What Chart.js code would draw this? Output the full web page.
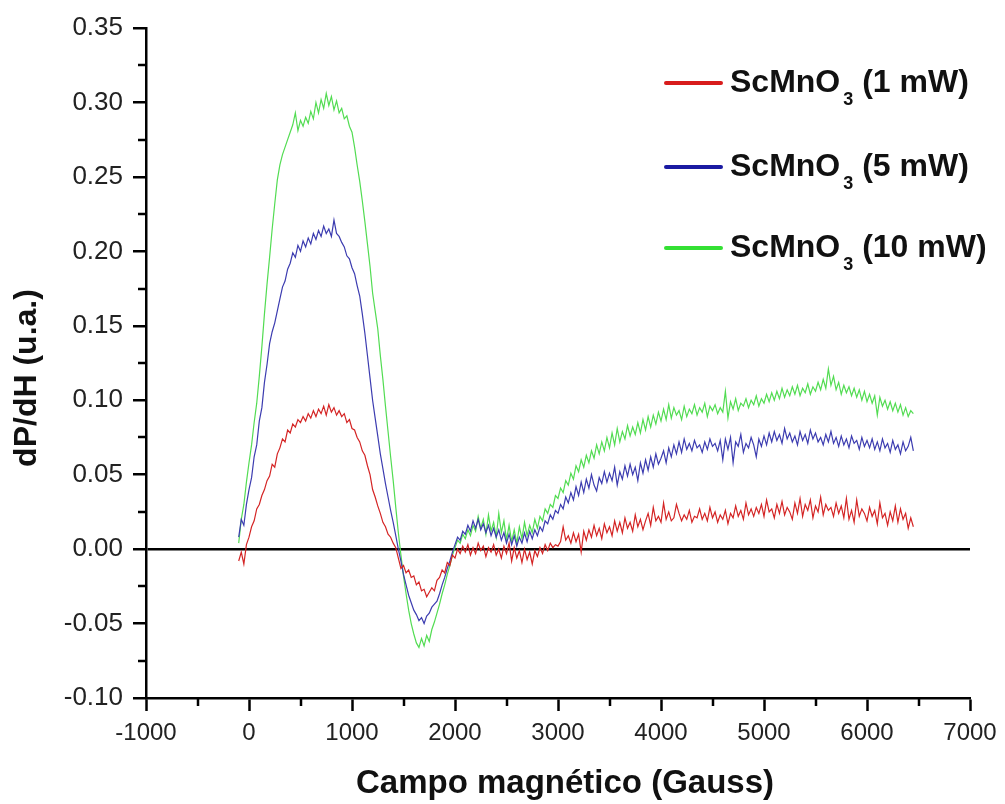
<!DOCTYPE html>
<html>
<head>
<meta charset="utf-8">
<title>ScMnO3 – dP/dH</title>
<script src="https://cdn.jsdelivr.net/npm/chart.js@4/dist/chart.umd.min.js"></script>
<style>
  html, body { margin: 0; padding: 0; background: #fff; }
  #wrap { width: 1005px; height: 804px; }
</style>
</head>
<body>
<div id="wrap"><canvas id="c" width="1005" height="804"></canvas></div>
<script>
// Magnetic field (Gauss)
const fieldGauss = [
  -100, -75, -50, -25,
  0, 25, 50, 75,
  100, 125, 150, 175,
  200, 225, 250, 275,
  300, 325, 350, 375,
  400, 425, 450, 475,
  500, 525, 550, 575,
  600, 625, 650, 675,
  700, 725, 750, 775,
  800, 825, 850, 875,
  900, 925, 950, 975,
  1000, 1025, 1050, 1075,
  1100, 1125, 1150, 1175,
  1200, 1225, 1250, 1275,
  1300, 1325, 1350, 1375,
  1400, 1425, 1450, 1475,
  1500, 1525, 1550, 1575,
  1600, 1625, 1650, 1675,
  1700, 1725, 1750, 1775,
  1800, 1825, 1850, 1875,
  1900, 1925, 1950, 1975,
  2000, 2025, 2050, 2075,
  2100, 2125, 2150, 2175,
  2200, 2225, 2250, 2275,
  2300, 2325, 2350, 2375,
  2400, 2425, 2450, 2475,
  2500, 2525, 2550, 2575,
  2600, 2625, 2650, 2675,
  2700, 2725, 2750, 2775,
  2800, 2825, 2850, 2875,
  2900, 2925, 2950, 2975,
  3000, 3025, 3050, 3075,
  3100, 3125, 3150, 3175,
  3200, 3225, 3250, 3275,
  3300, 3325, 3350, 3375,
  3400, 3425, 3450, 3475,
  3500, 3525, 3550, 3575,
  3600, 3625, 3650, 3675,
  3700, 3725, 3750, 3775,
  3800, 3825, 3850, 3875,
  3900, 3925, 3950, 3975,
  4000, 4025, 4050, 4075,
  4100, 4125, 4150, 4175,
  4200, 4225, 4250, 4275,
  4300, 4325, 4350, 4375,
  4400, 4425, 4450, 4475,
  4500, 4525, 4550, 4575,
  4600, 4625, 4650, 4675,
  4700, 4725, 4750, 4775,
  4800, 4825, 4850, 4875,
  4900, 4925, 4950, 4975,
  5000, 5025, 5050, 5075,
  5100, 5125, 5150, 5175,
  5200, 5225, 5250, 5275,
  5300, 5325, 5350, 5375,
  5400, 5425, 5450, 5475,
  5500, 5525, 5550, 5575,
  5600, 5625, 5650, 5675,
  5700, 5725, 5750, 5775,
  5800, 5825, 5850, 5875,
  5900, 5925, 5950, 5975,
  6000, 6025, 6050, 6075,
  6100, 6125, 6150, 6175,
  6200, 6225, 6250, 6275,
  6300, 6325, 6350, 6375,
  6400, 6425, 6450
];

// dP/dH at 1 mW
const signal1mW = [
  -0.008, -0.002, -0.010, 0.003,
  0.008, 0.015, 0.019, 0.027,
  0.030, 0.036, 0.040, 0.046,
  0.049, 0.057, 0.055, 0.064,
  0.068, 0.074, 0.072, 0.080,
  0.078, 0.084, 0.082, 0.087,
  0.085, 0.089, 0.086, 0.091,
  0.088, 0.093, 0.089, 0.094,
  0.091, 0.096, 0.090, 0.097,
  0.092, 0.095, 0.090, 0.093,
  0.089, 0.091, 0.085, 0.087,
  0.081, 0.080, 0.075, 0.072,
  0.066, 0.063, 0.056, 0.050,
  0.040, 0.035, 0.029, 0.024,
  0.018, 0.015, 0.010, 0.008,
  0.004, 0.001, -0.006, -0.013,
  -0.011, -0.016, -0.014, -0.019,
  -0.018, -0.024, -0.022, -0.028,
  -0.027, -0.032, -0.029, -0.026,
  -0.028, -0.021, -0.019, -0.014,
  -0.016, -0.009, -0.011, -0.004,
  -0.006, 0.000, -0.003, 0.002,
  -0.002, 0.003, -0.004, 0.001,
  -0.003, 0.004, -0.001, 0.002,
  -0.005, 0.001, -0.002, 0.003,
  -0.004, 0.000, -0.006, 0.002,
  -0.003, 0.004, -0.008, 0.001,
  -0.006, -0.001, -0.009, 0.000,
  -0.007, -0.002, -0.010, -0.001,
  -0.005, 0.001, -0.003, 0.003,
  -0.001, 0.004, 0.001, 0.003,
  0.002, 0.005, 0.015, 0.006,
  0.009, 0.004, 0.011, 0.005,
  0.010, -0.002, 0.012, 0.006,
  0.013, 0.008, 0.016, 0.009,
  0.014, 0.007, 0.017, 0.011,
  0.015, 0.009, 0.019, 0.012,
  0.018, 0.011, 0.021, 0.014,
  0.018, 0.012, 0.023, 0.015,
  0.020, 0.013, 0.019, 0.024,
  0.016, 0.028, 0.019, 0.022,
  0.018, 0.031, 0.020, 0.025,
  0.019, 0.021, 0.030, 0.024,
  0.019, 0.023, 0.020, 0.026,
  0.018, 0.022, 0.021, 0.027,
  0.020, 0.024, 0.019, 0.028,
  0.021, 0.025, 0.018, 0.023,
  0.020, 0.026, 0.017, 0.024,
  0.021, 0.029, 0.022, 0.026,
  0.020, 0.031, 0.023, 0.027,
  0.022, 0.028, 0.024, 0.030,
  0.022, 0.033, 0.025, 0.027,
  0.021, 0.030, 0.024, 0.032,
  0.023, 0.028, 0.025, 0.020,
  0.031, 0.024, 0.034, 0.022,
  0.030, 0.026, 0.033, 0.021,
  0.029, 0.025, 0.035, 0.023,
  0.030, 0.026, 0.028, 0.022,
  0.031, 0.024, 0.029, 0.021,
  0.034, 0.020, 0.026, 0.018,
  0.033, 0.022, 0.027, 0.024,
  0.019, 0.028, 0.022, 0.026,
  0.017, 0.031, 0.021, 0.024,
  0.016, 0.025, 0.019, 0.029,
  0.018, 0.027, 0.020, 0.024,
  0.014, 0.021, 0.015
];

// dP/dH at 5 mW
const signal5mW = [
  0.008, 0.020, 0.016, 0.030,
  0.040, 0.048, 0.062, 0.070,
  0.086, 0.095, 0.112, 0.124,
  0.138, 0.146, 0.152, 0.160,
  0.168, 0.176, 0.180, 0.188,
  0.192, 0.199, 0.196, 0.204,
  0.200, 0.207, 0.203, 0.209,
  0.205, 0.212, 0.208, 0.214,
  0.210, 0.217, 0.212, 0.215,
  0.210, 0.221, 0.212, 0.210,
  0.206, 0.203, 0.197, 0.195,
  0.189, 0.185, 0.177, 0.170,
  0.158, 0.145, 0.130, 0.115,
  0.100, 0.088, 0.076, 0.064,
  0.054, 0.044, 0.035, 0.026,
  0.018, 0.009, 0.000, -0.008,
  -0.017, -0.024, -0.031, -0.036,
  -0.041, -0.044, -0.048, -0.046,
  -0.050, -0.045, -0.043, -0.039,
  -0.037, -0.035, -0.030, -0.024,
  -0.019, -0.013, -0.008, -0.002,
  0.003, 0.008, 0.006, 0.012,
  0.010, 0.016, 0.012, 0.019,
  0.014, 0.020, 0.013, 0.017,
  0.011, 0.016, 0.009, 0.014,
  0.008, 0.013, 0.006, 0.011,
  0.004, 0.010, 0.003, 0.009,
  0.002, 0.008, 0.004, 0.011,
  0.005, 0.012, 0.007, 0.013,
  0.009, 0.015, 0.012, 0.019,
  0.017, 0.023, 0.020, 0.026,
  0.024, 0.030, 0.027, 0.035,
  0.031, 0.038, 0.033, 0.042,
  0.036, 0.045, 0.038, 0.047,
  0.041, 0.050, 0.043, 0.039,
  0.048, 0.044, 0.052, 0.045,
  0.051, 0.046, 0.055, 0.043,
  0.052, 0.047, 0.056, 0.049,
  0.057, 0.050, 0.055, 0.046,
  0.058, 0.051, 0.060, 0.053,
  0.062, 0.055, 0.064, 0.057,
  0.061, 0.066, 0.058, 0.068,
  0.062, 0.070, 0.064, 0.072,
  0.065, 0.074, 0.067, 0.071,
  0.066, 0.073, 0.068, 0.070,
  0.065, 0.072, 0.067, 0.074,
  0.069, 0.071, 0.066, 0.073,
  0.060, 0.074, 0.067, 0.075,
  0.058, 0.072, 0.069, 0.077,
  0.065, 0.071, 0.068, 0.075,
  0.070, 0.062, 0.074, 0.069,
  0.076, 0.070, 0.078, 0.072,
  0.079, 0.073, 0.077, 0.071,
  0.081, 0.074, 0.078, 0.072,
  0.076, 0.070, 0.079, 0.073,
  0.077, 0.071, 0.080, 0.074,
  0.078, 0.072, 0.075, 0.070,
  0.077, 0.072, 0.079, 0.071,
  0.075, 0.069, 0.076, 0.070,
  0.074, 0.068, 0.076, 0.071,
  0.073, 0.067, 0.075, 0.069,
  0.073, 0.068, 0.074, 0.067,
  0.072, 0.066, 0.074, 0.068,
  0.071, 0.065, 0.073, 0.067,
  0.070, 0.064, 0.072, 0.066,
  0.069, 0.075, 0.066
];

// dP/dH at 10 mW
const signal10mW = [
  0.004, 0.020, 0.030, 0.045,
  0.058, 0.070, 0.085, 0.098,
  0.116, 0.136, 0.158, 0.178,
  0.196, 0.215, 0.232, 0.248,
  0.258, 0.265, 0.270, 0.275,
  0.280, 0.285, 0.293, 0.281,
  0.288, 0.284, 0.290, 0.286,
  0.294, 0.289, 0.300, 0.293,
  0.302, 0.296, 0.306, 0.298,
  0.304, 0.295, 0.301, 0.293,
  0.296, 0.289, 0.291, 0.284,
  0.280, 0.270, 0.258, 0.247,
  0.234, 0.220, 0.205, 0.190,
  0.172, 0.160, 0.148, 0.130,
  0.114, 0.096, 0.079, 0.062,
  0.046, 0.028, 0.011, -0.004,
  -0.018, -0.030, -0.041, -0.050,
  -0.057, -0.063, -0.066, -0.060,
  -0.065, -0.058, -0.062, -0.054,
  -0.049, -0.043, -0.037, -0.030,
  -0.024, -0.017, -0.011, -0.004,
  0.001, 0.006, 0.004, 0.010,
  0.007, 0.013, 0.009, 0.016,
  0.012, 0.022, 0.014, 0.020,
  0.010, 0.023, 0.012, 0.018,
  0.008, 0.024, 0.011, 0.019,
  0.006, 0.016, 0.005, 0.013,
  0.004, 0.015, 0.007, 0.018,
  0.009, 0.016, 0.011, 0.020,
  0.014, 0.022, 0.019, 0.027,
  0.024, 0.030, 0.028, 0.036,
  0.034, 0.041, 0.038, 0.046,
  0.043, 0.051, 0.047, 0.056,
  0.052, 0.060, 0.055, 0.063,
  0.058, 0.066, 0.061, 0.070,
  0.064, 0.072, 0.066, 0.075,
  0.068, 0.078, 0.070, 0.081,
  0.072, 0.079, 0.074, 0.083,
  0.076, 0.082, 0.077, 0.085,
  0.078, 0.087, 0.080, 0.089,
  0.082, 0.090, 0.084, 0.092,
  0.086, 0.094, 0.087, 0.097,
  0.088, 0.095, 0.090, 0.093,
  0.087, 0.096, 0.089, 0.094,
  0.091, 0.097, 0.090, 0.095,
  0.092, 0.098, 0.089, 0.096,
  0.093, 0.097, 0.091, 0.095,
  0.092, 0.106, 0.088, 0.099,
  0.094, 0.101, 0.093, 0.098,
  0.096, 0.101, 0.095, 0.100,
  0.097, 0.103, 0.096, 0.101,
  0.098, 0.104, 0.099, 0.105,
  0.100, 0.106, 0.101, 0.108,
  0.102, 0.107, 0.103, 0.109,
  0.104, 0.110, 0.103, 0.108,
  0.105, 0.111, 0.104, 0.109,
  0.106, 0.112, 0.107, 0.114,
  0.108, 0.121, 0.110, 0.116,
  0.107, 0.112, 0.104, 0.110,
  0.105, 0.109, 0.103, 0.108,
  0.102, 0.107, 0.100, 0.106,
  0.099, 0.104, 0.098, 0.103,
  0.090, 0.102, 0.096, 0.100,
  0.094, 0.099, 0.093, 0.098,
  0.092, 0.097, 0.090, 0.095,
  0.089, 0.093, 0.091
];

const compound = 'ScMnO';
const compoundSub = '3';
const powers = ['1 mW', '5 mW', '10 mW'];
const seriesColors = ['#d42424', '#3c3cb0', '#52dc52'];
const legendColors = ['#d81c1c', '#1a1aa2', '#34e034'];
const seriesValues = [signal1mW, signal5mW, signal10mW];

const xAxisTitle = 'Campo magnético (Gauss)';
const yAxisTitle = 'dP/dH (u.a.)';

const FONT = '"Liberation Sans", Arial, Helvetica, sans-serif';

function toPoints(values) {
  return values.map((v, i) => ({ x: fieldGauss[i], y: v }));
}

// Shorter, unlabelled ticks half-way between the major ones
const minorTicks = {
  id: 'minorTicks',
  afterDraw(chart) {
    const { ctx, chartArea } = chart;
    const xs = chart.scales.x, ys = chart.scales.y;
    ctx.save();
    ctx.strokeStyle = '#000';
    ctx.lineWidth = 2.5;
    ctx.beginPath();
    for (let i = 0; i < xs.ticks.length - 1; i++) {
      const px = Math.round(xs.getPixelForValue((xs.ticks[i].value + xs.ticks[i + 1].value) / 2));
      ctx.moveTo(px, chartArea.bottom);
      ctx.lineTo(px, chartArea.bottom + 8);
    }
    for (let i = 0; i < ys.ticks.length - 1; i++) {
      const py = Math.round(ys.getPixelForValue((ys.ticks[i].value + ys.ticks[i + 1].value) / 2));
      ctx.moveTo(chartArea.left, py);
      ctx.lineTo(chartArea.left - 8, py);
    }
    ctx.stroke();
    ctx.restore();
  }
};

// Axis titles
const axisTitles = {
  id: 'axisTitles',
  afterDraw(chart) {
    const { ctx } = chart;
    ctx.save();
    ctx.fillStyle = '#111';
    ctx.textAlign = 'center';
    ctx.textBaseline = 'middle';
    ctx.font = 'bold 33px ' + FONT;
    ctx.fillText(xAxisTitle, 565, 784);
    ctx.translate(27, 378);
    ctx.rotate(-Math.PI / 2);
    ctx.font = 'bold 32px ' + FONT;
    ctx.fillText(yAxisTitle, 0, 0);
    ctx.restore();
  }
};

// Legend with a subscripted formula
const formulaLegend = {
  id: 'formulaLegend',
  afterDraw(chart) {
    const { ctx } = chart;
    const rowsY = [83, 167, 248];
    const lineX0 = 666, lineX1 = 721, textX = 730;
    ctx.save();
    chart.data.datasets.forEach((ds, i) => {
      const y = rowsY[i];
      ctx.strokeStyle = legendColors[i];
      ctx.lineWidth = 4;
      ctx.lineCap = 'round';
      ctx.beginPath();
      ctx.moveTo(lineX0, y);
      ctx.lineTo(lineX1, y);
      ctx.stroke();

      ctx.fillStyle = '#111';
      ctx.textBaseline = 'middle';
      ctx.textAlign = 'left';
      ctx.font = 'bold 32px ' + FONT;
      ctx.fillText(compound, textX, y);
      let x = textX + ctx.measureText(compound).width + 3;
      ctx.font = 'bold 18px ' + FONT;
      ctx.fillText(compoundSub, x, y + 17);
      x += ctx.measureText(compoundSub).width;
      ctx.font = 'bold 32px ' + FONT;
      ctx.fillText(' (' + powers[i] + ')', x, y);
    });
    ctx.restore();
  }
};

new Chart(document.getElementById('c'), {
  type: 'line',
  data: {
    datasets: seriesValues.map((vals, i) => ({
      label: compound + '\u2083 (' + powers[i] + ')',
      data: toPoints(vals),
      borderColor: seriesColors[i],
      backgroundColor: seriesColors[i],
      borderWidth: 1.2,
      pointRadius: 0,
      tension: 0,
      fill: false
    }))
  },
  options: {
    responsive: false,
    animation: false,
    events: [],
    layout: { padding: { top: 28, right: 35, bottom: 0, left: 0 } },
    plugins: {
      legend: { display: false },
      tooltip: { enabled: false }
    },
    scales: {
      x: {
        type: 'linear',
        min: -1000,
        max: 7000,
        afterFit(scale) { scale.height = 106; },
        border: { display: true, color: '#000', width: 2.5 },
        grid: {
          drawOnChartArea: false,
          drawTicks: true,
          tickLength: 13,
          tickWidth: 2.5,
          tickColor: '#000'
        },
        ticks: {
          stepSize: 1000,
          padding: 8,
          color: '#222',
          font: { family: FONT, size: 24 },
          maxRotation: 0,
          callback: v => String(v)
        }
      },
      y: {
        type: 'linear',
        min: -0.10,
        max: 0.35,
        afterFit(scale) { scale.width = 146; },
        border: { display: true, color: '#000', width: 2.5 },
        grid: {
          drawOnChartArea: true,
          drawTicks: true,
          tickLength: 13,
          tickWidth: 2.5,
          tickColor: '#000',
          lineWidth: 2.5,
          color: ctx => (ctx.tick && Math.abs(ctx.tick.value) < 1e-9) ? '#000' : 'rgba(0,0,0,0)'
        },
        ticks: {
          stepSize: 0.05,
          padding: 10,
          color: '#222',
          font: { family: FONT, size: 26 },
          callback: v => (Math.abs(v) < 1e-9 ? 0 : v).toFixed(2)
        }
      }
    }
  },
  plugins: [minorTicks, axisTitles, formulaLegend]
});
</script>
</body>
</html>
